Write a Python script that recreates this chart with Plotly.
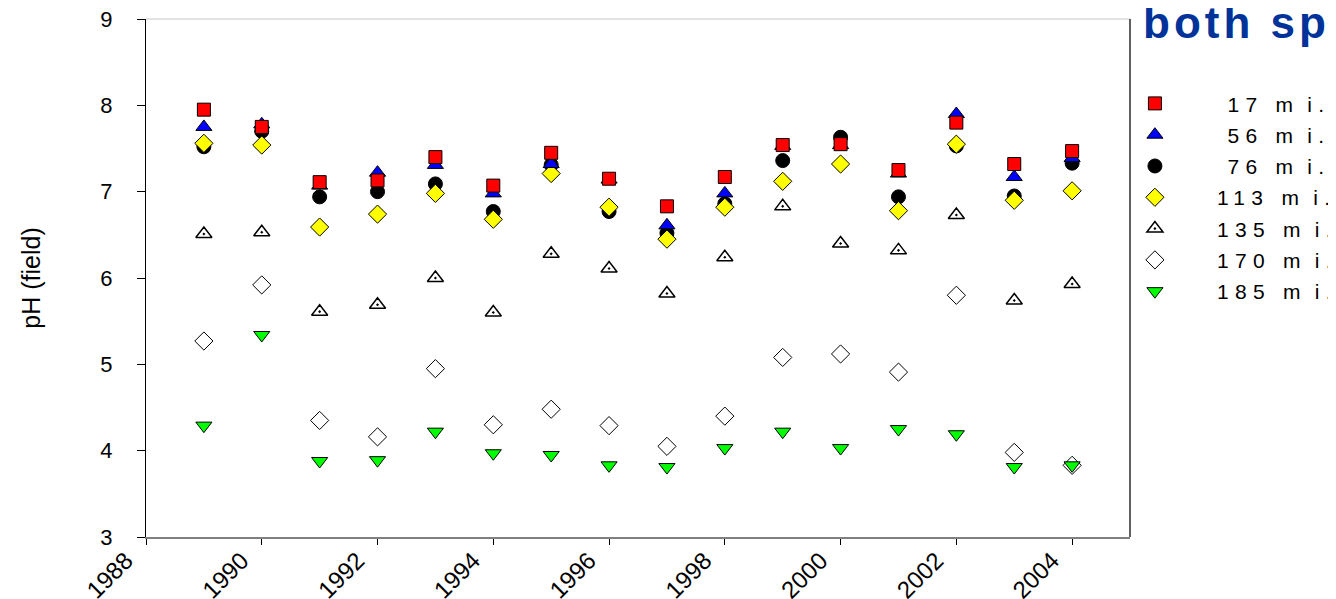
import plotly.graph_objects as go

years = list(range(1989, 2005))
series_names = ["17", "56", "76", "113", "135", "170", "185"]

mi17 = [7.95, 7.75, 7.11, 7.13, 7.40, 7.07, 7.45, 7.15, 6.83, 7.17, 7.54, 7.55, 7.25, 7.80, 7.32, 7.47]
mi56 = [7.75, 7.78, 7.07, 7.22, 7.31, 6.98, 7.32, 7.14, 6.61, 6.98, 7.53, 7.54, 7.21, 7.90, 7.17, 7.39]
mi76 = [7.52, 7.70, 6.94, 7.00, 7.09, 6.77, 7.31, 6.77, 6.52, 6.86, 7.36, 7.63, 6.94, 7.53, 6.95, 7.33]
mi113 = [7.56, 7.54, 6.59, 6.74, 6.98, 6.68, 7.21, 6.82, 6.45, 6.82, 7.12, 7.32, 6.78, 7.55, 6.90, 7.01]
mi135 = [6.51, 6.53, 5.61, 5.69, 6.00, 5.60, 6.28, 6.11, 5.82, 6.24, 6.83, 6.40, 6.32, 6.73, 5.74, 5.93]
mi170 = [5.27, 5.92, 4.35, 4.16, 4.95, 4.30, 4.48, 4.29, 4.05, 4.40, 5.08, 5.12, 4.91, 5.80, 3.98, 3.83]
mi185 = [4.29, 5.34, 3.88, 3.89, 4.22, 3.97, 3.95, 3.83, 3.81, 4.03, 4.22, 4.03, 4.25, 4.19, 3.81, 3.83]

x_ticks = list(range(1988, 2005, 2))
y_ticks = list(range(3, 10))

FONT = "Arial, 'Liberation Sans', sans-serif"


def legend_label(label):
    lead = "\u2003\u2003" + ("\u2002" if len(label) == 2 else "")
    return lead + '<span style="letter-spacing:6.3px">' + label + " m\u200ai.</span>"


styles = {
    "17": dict(symbol="square", size=13, color="#ff0000", line=dict(color="#000000", width=1)),
    "56": dict(symbol="triangle-up", size=14, color="#0000ff", line=dict(color="#000000", width=1)),
    "76": dict(symbol="circle", size=14, color="#000000", line=dict(color="#000000", width=1)),
    "113": dict(symbol="diamond", size=14, color="#ffff00", line=dict(color="#000000", width=1)),
    "135": dict(symbol="triangle-up-dot", size=14, color="#ffffff", line=dict(color="#000000", width=1.5)),
    "170": dict(symbol="diamond", size=14, color="#ffffff", line=dict(color="#000000", width=1)),
    "185": dict(symbol="triangle-down", size=14, color="#00ff00", line=dict(color="#000000", width=1)),
}
data = {"17": mi17, "56": mi56, "76": mi76, "113": mi113, "135": mi135, "170": mi170, "185": mi185}

draw_order = ["135", "170", "76", "113", "56", "17", "185"]

fig = go.Figure()
for name in draw_order:
    fig.add_trace(go.Scatter(
        x=years, y=data[name], mode="markers", name=legend_label(name),
        marker=styles[name], legendrank=series_names.index(name) + 1,
        legendgroup=name, cliponaxis=False,
    ))

# The page body has an 8px default margin, so the figure is sized/offset to compensate.
fig.update_layout(
    width=1328, height=591,
    margin=dict(l=138, r=206, t=11, b=62, autoexpand=False),
    paper_bgcolor="white", plot_bgcolor="white",
    font=dict(family=FONT, size=21, color="#000000"),
    showlegend=True,
    legend=dict(x=1.005, y=0.876, xanchor="left", yanchor="top",
                font=dict(size=21, family=FONT), tracegroupgap=1,
                bgcolor="rgba(0,0,0,0)", itemsizing="trace"),
    xaxis=dict(range=[1988, 2005], tickvals=x_ticks, ticktext=[str(v) for v in x_ticks],
               tickangle=-45, showgrid=False, zeroline=False, showline=True,
               linecolor="#808080", linewidth=2, ticks="outside", ticklen=6,
               tickcolor="#000000", tickfont=dict(size=24), automargin=False,
               ticklabeloverflow="allow", ticklabelshift=-20, ticklabelstandoff=-8),
    yaxis=dict(range=[3, 9], tickvals=y_ticks, showgrid=False, zeroline=False,
               showline=True, linecolor="#000000", linewidth=1, ticks="outside",
               ticklen=8, tickcolor="#000000", tickfont=dict(size=22),
               ticklabelstandoff=20, automargin=False, ticklabeloverflow="allow",
               title=dict(text="pH (field)", font=dict(size=25), standoff=52)),
    shapes=[
        dict(type="line", xref="paper", yref="paper", x0=0, x1=1, y0=1, y1=1,
             line=dict(color="#c8c8c8", width=1)),
        dict(type="line", xref="paper", yref="paper", x0=1, x1=1, y0=0, y1=1,
             line=dict(color="#606060", width=2)),
    ],
    annotations=[dict(text='<span style="letter-spacing:4px"><b>both sp</b></span>',
                      xref="paper", yref="paper",
                      x=1.0, y=1 + 11 / 518, xanchor="left", yanchor="top",
                      xshift=11, yshift=12,
                      showarrow=False, font=dict(size=44, color="#003399", family=FONT))],
)

fig.write_html("out.html")
